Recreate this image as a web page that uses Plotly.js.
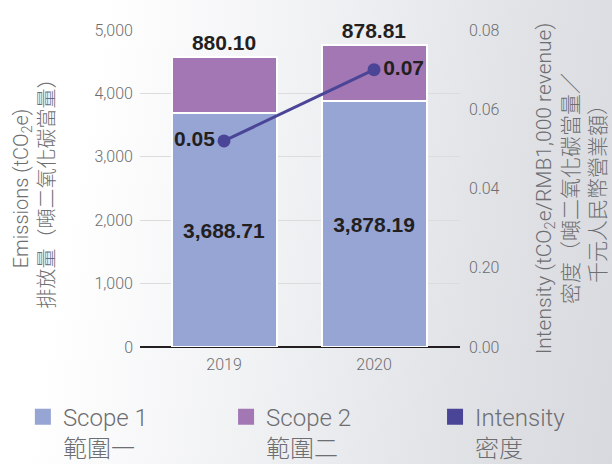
<!DOCTYPE html>
<html>
<head>
<meta charset="utf-8">
<script src="https://cdn.plot.ly/plotly-3.0.1.min.js"></script>
<style>
  html, body { margin: 0; padding: 0; }
  body {
    width: 612px; height: 464px; overflow: hidden;
    background: linear-gradient(100deg, #ffffff 15%, #f1f2f4 45%, #e2e3e7 75%, #d8d9de 100%);
  }
  #chart { width: 612px; height: 464px; }
</style>
</head>
<body>
<div id="chart"></div>
<script>
// Emissions data by year
const years = ['2019', '2020'];
const scope1 = [3688.71, 3878.19];
const scope2 = [880.10, 878.81];
const intensity = [0.052, 0.070];
const intensityLabels = ['0.05', '0.07'];
const rightTickVals = [0, 0.02, 0.04, 0.06, 0.08];
const rightTickText = ['0.00', '0.20', '0.04', '0.06', '0.08'];
const legendNames = ['Scope 1<br>範圍一', 'Scope 2<br>範圍二', 'Intensity<br>密度'];

const GRAY = '#6d6e71';
const DARK = '#231f20';
const C_SCOPE1 = '#97a5d4';
const C_SCOPE2 = '#a277b4';
const C_INT = '#4a4597';
const LIGHT_FONT = 'Roboto, "Noto Sans CJK TC", sans-serif';
const BOLD_FONT = '"Liberation Sans", Arial, sans-serif';

const fmt = v => v.toLocaleString('en-US', { minimumFractionDigits: 2, maximumFractionDigits: 2 });

const traceScope1 = {
    type: 'bar',
    x: years,
    y: scope1,
    showlegend: false,
    marker: { color: C_SCOPE1, line: { color: '#ffffff', width: 2 } },
    text: scope1.map(fmt),
    textposition: 'inside',
    insidetextanchor: 'middle',
    textfont: { family: BOLD_FONT, size: 21, color: DARK, weight: 'bold' },
    hoverinfo: 'skip'
};

const traceScope2 = {
    type: 'bar',
    x: years,
    y: scope2,
    showlegend: false,
    marker: { color: C_SCOPE2, line: { color: '#ffffff', width: 2 } },
    text: scope2.map(fmt),
    textposition: 'outside',
    cliponaxis: false,
    textfont: { family: BOLD_FONT, size: 21, color: DARK, weight: 'bold' },
    hoverinfo: 'skip'
};

const traceIntensity = {
    type: 'scatter',
    mode: 'lines+markers+text',
    x: years,
    y: intensity,
    yaxis: 'y2',
    showlegend: false,
    line: { color: C_INT, width: 3 },
    marker: { color: C_INT, size: 13 },
    text: intensityLabels,
    textposition: ['middle left', 'middle right'],
    textfont: { family: BOLD_FONT, size: 21, color: DARK, weight: 'bold' },
    cliponaxis: false,
    hoverinfo: 'skip'
};

// legend-only entries with square swatches, one legend each so they can be placed freely
const legendColors = [C_SCOPE1, C_SCOPE2, C_INT];
const legendIds = ['legend', 'legend2', 'legend3'];
const legendKeys = legendNames.map((name, i) => ({
    type: 'scatter',
    mode: 'markers',
    x: years,
    y: [null, null],
    name: name,
    legend: legendIds[i],
    marker: { symbol: 'square', size: 16, color: legendColors[i] },
    hoverinfo: 'skip'
}));

const legendBase = {
    y: -0.15,
    xanchor: 'left',
    yanchor: 'top',
    valign: 'top',
    font: { size: 24, color: GRAY },
    bgcolor: 'rgba(0,0,0,0)'
};

const layout = {
    width: 612,
    height: 464,
    margin: { l: 140, r: 152, t: 30, b: 117, autoexpand: false },
    paper_bgcolor: 'rgba(0,0,0,0)',
    plot_bgcolor: 'rgba(0,0,0,0)',
    barmode: 'stack',
    bargap: 0.3,
    font: { family: LIGHT_FONT, color: GRAY, size: 16, weight: 300 },
    xaxis: {
        type: 'category',
        range: [-0.56, 1.573],
        showgrid: false,
        ticks: '',
        ticklabelstandoff: 6,
        tickfont: { size: 16, color: GRAY },
        fixedrange: true
    },
    yaxis: {
        range: [0, 5000],
        dtick: 1000,
        tickformat: ',',
        showgrid: true,
        gridcolor: '#dcdcdc',
        gridwidth: 1,
        zeroline: true,
        zerolinecolor: DARK,
        zerolinewidth: 1.5,
        ticks: '',
        ticklabelstandoff: 6,
        tickfont: { size: 16, color: GRAY },
        title: {
            text: 'Emissions (tCO<sub>2</sub>e)<br>排放量（噸二氧化碳當量）',
            font: { size: 20, color: GRAY },
            standoff: 34
        }
    },
    yaxis2: {
        overlaying: 'y',
        side: 'right',
        range: [0, 0.08],
        tickvals: rightTickVals,
        ticktext: rightTickText,
        showgrid: false,
        zeroline: false,
        ticks: '',
        ticklabelstandoff: 8,
        tickfont: { size: 16, color: GRAY },
        title: {
            text: 'Intensity (tCO<sub>2</sub>e/RMB1,000 revenue)<br>密度（噸二氧化碳當量／<br>千元人民幣營業額）',
            font: { size: 21, color: GRAY },
            standoff: 37
        }
    },
    showlegend: true,
    legend: Object.assign({}, legendBase, { x: -0.366 }),
    legend2: Object.assign({}, legendBase, { x: 0.269 }),
    legend3: Object.assign({}, legendBase, { x: 0.922 })
};

Plotly.newPlot('chart', [traceScope1, traceScope2, traceIntensity].concat(legendKeys), layout, {
    displayModeBar: false,
    staticPlot: true
});
</script>
</body>
</html>
